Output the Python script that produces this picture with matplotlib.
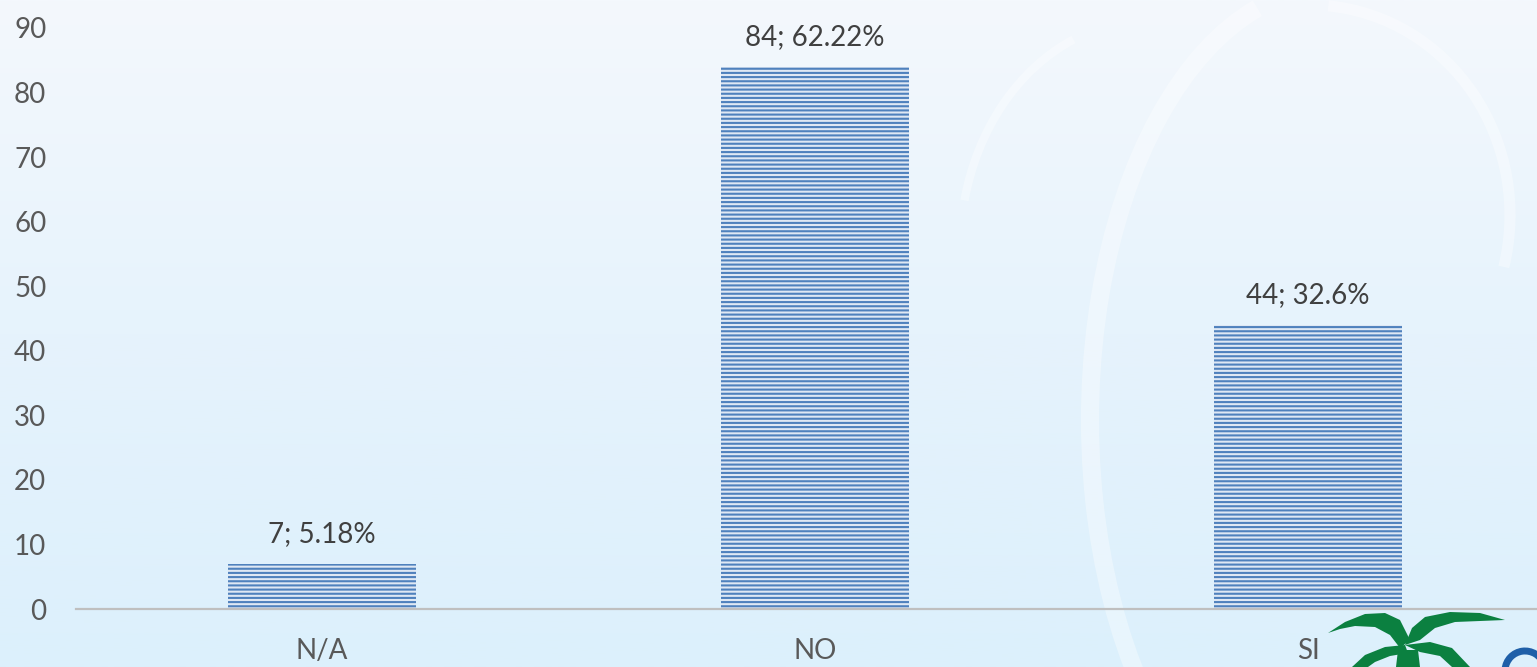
import numpy as np
import matplotlib
matplotlib.use("Agg")
import matplotlib.pyplot as plt
from matplotlib.patches import Arc, Polygon
from matplotlib.colors import LinearSegmentedColormap

categories = ["N/A", "NO", "SI"]
counts = [7, 84, 44]
percents = ["5.18%", "62.22%", "32.6%"]
yticks = [0, 10, 20, 30, 40, 50, 60, 70, 80, 90]

plt.rcParams['font.family'] = ['Lato', 'DejaVu Sans']
plt.rcParams['hatch.linewidth'] = 1.5

W, H = 1537, 667
fig = plt.figure(figsize=(W / 100, H / 100), dpi=100)

# background (pixel coordinates, y downwards)
bg = fig.add_axes([0, 0, 1, 1], zorder=-10)
cmap = LinearSegmentedColormap.from_list("bg", ["#dcf0fc", "#e6f3fc", "#f4f8fd"])
grad = np.linspace(1, 0, 256).reshape(-1, 1)
bg.imshow(grad, aspect="auto", cmap=cmap, origin="upper", extent=[0, W, H, 0])
bg.set_xlim(0, W)
bg.set_ylim(H, 0)
# faint watermark arcs
bg.add_patch(Arc((1330, 420), 480, 864, theta1=125, theta2=260, color="white", lw=13, alpha=0.35))
bg.add_patch(Arc((1150, 250), 380, 460, theta1=195, theta2=250, color="white", lw=6, alpha=0.35))
bg.add_patch(Arc((1310, 215), 400, 420, theta1=-85, theta2=15, color="white", lw=8, alpha=0.35))
# partial palm logo in the corner
leaves = [
    [(1328, 633), (1345, 622), (1365, 614), (1385, 613), (1400, 620), (1410, 640),
     (1400, 648), (1390, 635), (1375, 627), (1355, 626), (1340, 629)],
    [(1405, 645), (1412, 628), (1425, 617), (1450, 612), (1480, 613), (1505, 620),
     (1480, 621), (1455, 622), (1435, 628), (1420, 640)],
    [(1352, 667), (1365, 655), (1385, 647), (1405, 645), (1408, 653), (1390, 656),
     (1375, 662), (1368, 667)],
    [(1405, 645), (1430, 642), (1452, 648), (1470, 667), (1452, 667), (1440, 656), (1420, 652)],
    [(1398, 650), (1418, 650), (1420, 667), (1396, 667)],
]
for lf in leaves:
    bg.add_patch(Polygon(lf, closed=True, color="#0b8040", lw=0))
bg.add_patch(Arc((1525, 671), 40, 40, theta1=185, theta2=340, color="#1f5fa8", lw=5))
bg.axis("off")

# main chart
left = 75.5 / W
bottom = (H - 609) / H
ax = fig.add_axes([left, bottom, 1479 / W, 581 / H])
ax.patch.set_alpha(0)
x = np.arange(len(categories))
bars = ax.bar(x, counts, width=0.38, facecolor="#dfe8f4", edgecolor="#4f81bd",
              hatch="----", linewidth=0, zorder=2)
for xi, c, p in zip(x, counts, percents):
    ax.annotate(f"{c}; {p}", (xi, c), xytext=(0, 12), textcoords="offset points",
                ha="center", va="bottom", fontsize=20, color="#404040")

ax.set_xlim(-0.5, 2.5)
ax.set_ylim(0, 90)
ax.set_yticks(yticks)
ax.set_xticks(x)
ax.set_xticklabels(categories)
for s in ["top", "right", "left"]:
    ax.spines[s].set_visible(False)
ax.spines["bottom"].set_color("#bfbfbf")
ax.spines["bottom"].set_linewidth(1.6)
ax.tick_params(axis="both", length=0, labelsize=20, labelcolor="#595959")
ax.tick_params(axis="y", pad=21)
ax.tick_params(axis="x", pad=21)

fig.savefig("out.png", dpi=100)
